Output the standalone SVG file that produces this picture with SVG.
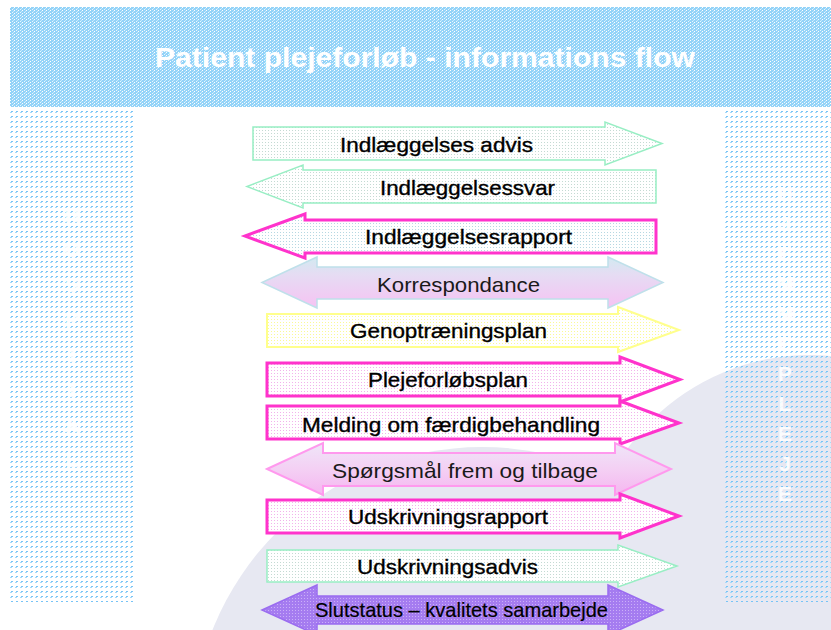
<svg xmlns="http://www.w3.org/2000/svg" width="831" height="630" viewBox="0 0 831 630">
<defs>
<pattern id="band" width="4" height="3" patternUnits="userSpaceOnUse"><rect width="4" height="3" fill="#93d3f8"/><rect x="0" y="0" width="1" height="1" fill="#e8f6fe"/><rect x="2" y="1" width="1" height="1" fill="#ffffff"/><rect x="1" y="2" width="1" height="1" fill="#c6e9fc"/></pattern>
<pattern id="col" width="5" height="5" patternUnits="userSpaceOnUse"><rect x="1" y="1" width="2" height="1" fill="#78c4f6"/><rect x="0" y="2" width="2" height="1" fill="#a6d9fa"/></pattern>
<pattern id="pMint" width="3" height="3" patternUnits="userSpaceOnUse"><rect width="3" height="3" fill="#ffffff"/><rect x="1" y="1" width="1" height="1" fill="#c4dad3"/></pattern>
<pattern id="pBlue" width="3" height="3" patternUnits="userSpaceOnUse"><rect width="3" height="3" fill="#ffffff"/><rect x="1" y="1" width="1" height="1" fill="#b6d8e2"/></pattern>
<pattern id="pPink" width="3" height="3" patternUnits="userSpaceOnUse"><rect width="3" height="3" fill="#ffffff"/><rect x="1" y="1" width="1" height="1" fill="#f2b2ec"/></pattern>
<pattern id="pYellow" width="3" height="3" patternUnits="userSpaceOnUse"><rect width="3" height="3" fill="#ffffff"/><rect x="1" y="1" width="1" height="1" fill="#fafa96"/></pattern>
<pattern id="pPurple" width="3" height="3" patternUnits="userSpaceOnUse"><rect width="3" height="3" fill="#a57cf0"/><rect x="1" y="1" width="1" height="1" fill="#cbb0f8"/></pattern>
<linearGradient id="gKorr" x1="0" y1="257" x2="0" y2="308" gradientUnits="userSpaceOnUse"><stop offset="0" stop-color="#d2eaf1"/><stop offset="0.35" stop-color="#e6dcf3"/><stop offset="1" stop-color="#f6c2f3"/></linearGradient>
<linearGradient id="gSpm" x1="0" y1="443" x2="0" y2="495" gradientUnits="userSpaceOnUse"><stop offset="0" stop-color="#efe6f8"/><stop offset="0.5" stop-color="#f4d0f4"/><stop offset="1" stop-color="#f5b6f0"/></linearGradient>
<style>
.lbl{font-family:"Liberation Sans",Arial,sans-serif;font-size:21px;fill:#000;stroke:#000;stroke-width:0.35px}
.lt{font-family:"Liberation Sans",Arial,sans-serif;font-size:21px;fill:#1a1a1a}
.mint{fill:url(#pMint);stroke:#98eec4;stroke-width:1.5}
.mag{stroke:#ff33cc;stroke-width:3}
.side{font-family:"Liberation Sans",Arial,sans-serif;font-size:21px;font-weight:bold;fill:#ffffff;text-anchor:middle}
</style>
</defs>
<rect width="831" height="630" fill="#ffffff"/>
<g id="background">
<circle cx="482" cy="737" r="290" fill="#e7e8f2"/>
<circle cx="810" cy="580" r="225" fill="#e7e8f2"/>
<rect x="10" y="7" width="821" height="100" fill="url(#band)"/>
<rect x="10" y="110" width="123" height="492" fill="url(#col)"/>
<rect x="725" y="110" width="106" height="492" fill="url(#col)"/>
</g>
<g id="title"><text x="155" y="67" textLength="540" lengthAdjust="spacingAndGlyphs" font-family="Liberation Sans, Arial, sans-serif" font-size="28" font-weight="bold" fill="#ffffff">Patient plejeforløb - informations flow</text></g>
<g id="side-left" opacity="0.85">
<text class="side" x="72" y="222">H</text><text class="side" x="72" y="257">O</text><text class="side" x="72" y="292">S</text><text class="side" x="72" y="327">P</text><text class="side" x="72" y="362">I</text><text class="side" x="72" y="397">T</text><text class="side" x="72" y="432">A</text><text class="side" x="72" y="467">L</text>
</g>
<g id="side-right" opacity="0.9">
<text class="side" x="785" y="201">H</text><text class="side" x="785" y="231">J</text><text class="side" x="785" y="261">E</text><text class="side" x="785" y="291">M</text><text class="side" x="785" y="321">M</text><text class="side" x="785" y="351">E</text><text class="side" x="785" y="381">P</text><text class="side" x="785" y="411">L</text><text class="side" x="785" y="441">E</text><text class="side" x="785" y="471">J</text><text class="side" x="785" y="501">E</text>
</g>
<g id="connectors"></g>
<g id="n1">
<path class="mint" d="M253 127 H605 V122 L662 143.5 L605 165 V160 H253 Z"/>
<text class="lbl" x="340" y="152" textLength="193" lengthAdjust="spacingAndGlyphs">Indlæggelses advis</text>
</g>
<g id="n2">
<path class="mint" d="M656 170 H303 V165 L247 186.5 L303 208 V203 H656 Z"/>
<text class="lbl" x="380" y="195" textLength="175" lengthAdjust="spacingAndGlyphs">Indlæggelsessvar</text>
</g>
<g id="n3">
<path class="mag" fill="url(#pBlue)" d="M656 220 H305 V214 L245 236 L305 258 V253 H656 Z"/>
<text class="lbl" x="365" y="244" textLength="207" lengthAdjust="spacingAndGlyphs">Indlæggelsesrapport</text>
</g>
<g id="n4">
<path fill="url(#gKorr)" stroke="#bfe0ea" stroke-width="1.5" d="M262 282.5 L317 257 V267 H608 V257 L663 282.5 L608 308 V299 H317 V308 Z"/>
<text class="lt" x="377" y="292" textLength="163" lengthAdjust="spacingAndGlyphs">Korrespondance</text>
</g>
<g id="n5">
<path fill="url(#pYellow)" stroke="#ffff8c" stroke-width="2" d="M267 314 H618 V307 L679 330 L618 352 V347 H267 Z"/>
<text class="lbl" x="350" y="338" textLength="197" lengthAdjust="spacingAndGlyphs">Genoptræningsplan</text>
</g>
<g id="n6">
<path class="mag" fill="url(#pPink)" d="M267 363 H620 V357 L680 379.5 L620 402 V396 H267 Z"/>
<text class="lbl" x="368" y="387" textLength="160" lengthAdjust="spacingAndGlyphs">Plejeforløbsplan</text>
</g>
<g id="n7">
<path class="mag" fill="url(#pPink)" d="M267 406 H620 V401 L679 423 L620 444 V439 H267 Z"/>
<text class="lbl" x="302" y="432" textLength="298" lengthAdjust="spacingAndGlyphs">Melding om færdigbehandling</text>
</g>
<g id="n8">
<path fill="url(#gSpm)" stroke="#ff99ee" stroke-width="2" d="M267 469 L323 443 V453 H615 V443 L671 469 L615 495 V486 H323 V495 Z"/>
<text class="lt" x="332" y="478" textLength="266" lengthAdjust="spacingAndGlyphs">Spørgsmål frem og tilbage</text>
</g>
<g id="n9">
<path class="mag" fill="url(#pPink)" d="M267 500 H620 V494 L679 516 L620 538 V533 H267 Z"/>
<text class="lbl" x="348" y="524" textLength="200" lengthAdjust="spacingAndGlyphs">Udskrivningsrapport</text>
</g>
<g id="n10">
<path class="mint" d="M267 550 H618 V545 L677 566 L618 587 V582 H267 Z"/>
<text class="lbl" x="357" y="574" textLength="181" lengthAdjust="spacingAndGlyphs">Udskrivningsadvis</text>
</g>
<g id="n11">
<path fill="url(#pPurple)" stroke="#9a6cf0" stroke-width="1.5" d="M262 610 L317 585 V596 H608 V585 L663 610 L608 635 V624 H317 V635 Z"/>
<text class="lbl" x="315" y="617" textLength="293" lengthAdjust="spacingAndGlyphs" style="stroke-width:0.2px">Slutstatus – kvalitets samarbejde</text>
</g>
</svg>
